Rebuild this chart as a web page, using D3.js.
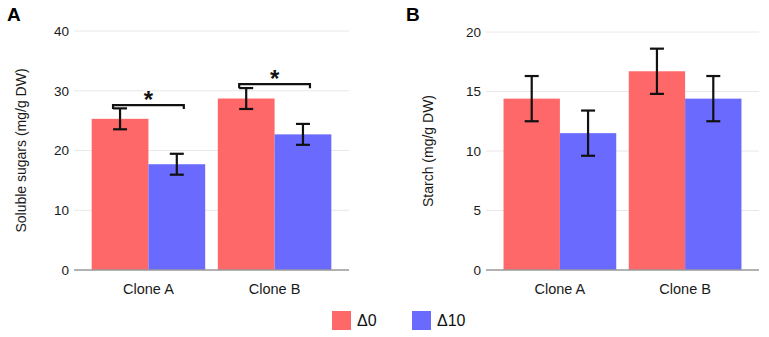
<!DOCTYPE html>
<html>
<head>
<meta charset="utf-8">
<script src="https://cdn.jsdelivr.net/npm/d3@7"></script>
<style>
  body { margin: 0; background: #fff; }
  svg { display: block; font-family: "Liberation Sans", Arial, sans-serif; }
</style>
</head>
<body>
<svg id="chart" width="769" height="337"></svg>
<script>
// Two panels of grouped bars: soluble sugars (A) and starch (B)

const clones = ["Clone A", "Clone B"];
const series = ["Δ0", "Δ10"];
const colors = ["#ff6868", "#6a6aff"];

// means and error (+/-) per clone, per series
const sugarMeans = [[25.3, 17.7], [28.7, 22.7]];
const sugarErr = [[1.75, 1.75], [1.75, 1.75]];
const starchMeans = [[14.4, 11.5], [16.7, 14.4]];
const starchErr = [[1.9, 1.9], [1.9, 1.9]];

const sugarTicks = [0, 10, 20, 30, 40];
const starchTicks = [0, 5, 10, 15, 20];

// significance brackets (panel A only)
const sugarSig = [
  { clone: "Clone A", y: 27.6, label: "*" },
  { clone: "Clone B", y: 31.1, label: "*" },
];

const svg = d3.select("#chart");

const panels = [
  {
    letter: "A", letterX: 7, x0: 74, x1: 349, yTop: 31, yMax: 40,
    title: "Soluble sugars (mg/g DW)", titleX: 21.5,
    means: sugarMeans, err: sugarErr, ticks: sugarTicks, sig: sugarSig,
  },
  {
    letter: "B", letterX: 406, x0: 486, x1: 759, yTop: 32, yMax: 20,
    title: "Starch (mg/g DW)", titleX: 428,
    means: starchMeans, err: starchErr, ticks: starchTicks, sig: [],
  },
];

const yBottom = 270;
const capHalf = 7;

panels.forEach((p) => {
  const g = svg.append("g");

  const x = d3.scaleBand()
    .domain(clones)
    .range([p.x0, p.x1])
    .paddingInner(0.1)
    .paddingOuter(0.14);

  const xs = d3.scaleBand()
    .domain(series)
    .range([0, x.bandwidth()]);

  const y = d3.scaleLinear()
    .domain([0, p.yMax])
    .range([yBottom, p.yTop]);

  // gridlines
  g.selectAll(".grid")
    .data(p.ticks.filter((t) => t > 0))
    .enter()
    .append("line")
    .attr("x1", p.x0)
    .attr("x2", p.x1)
    .attr("y1", (d) => y(d))
    .attr("y2", (d) => y(d))
    .attr("stroke", "#e8e8e8")
    .attr("stroke-width", 1);

  // tick labels
  g.selectAll(".tick-label")
    .data(p.ticks)
    .enter()
    .append("text")
    .attr("x", p.x0 - 5)
    .attr("y", (d) => y(d))
    .attr("dy", "0.36em")
    .attr("text-anchor", "end")
    .attr("font-size", 13.5)
    .attr("fill", "#1a1a1a")
    .text((d) => d);

  // bars
  const rows = [];
  clones.forEach((c, ci) => {
    series.forEach((s, si) => {
      rows.push({ clone: c, s, si, v: p.means[ci][si], e: p.err[ci][si] });
    });
  });

  g.selectAll(".bar")
    .data(rows)
    .enter()
    .append("rect")
    .attr("x", (d) => x(d.clone) + xs(d.s))
    .attr("y", (d) => y(d.v))
    .attr("width", xs.bandwidth())
    .attr("height", (d) => y(0) - y(d.v))
    .attr("fill", (d) => colors[d.si]);

  // baseline
  g.append("line")
    .attr("x1", p.x0)
    .attr("x2", p.x1)
    .attr("y1", y(0))
    .attr("y2", y(0))
    .attr("stroke", "#999")
    .attr("stroke-width", 1.6);

  // error bars
  const eb = g.selectAll(".err")
    .data(rows)
    .enter()
    .append("g")
    .attr("transform", (d) => `translate(${x(d.clone) + xs(d.s) + xs.bandwidth() / 2},0)`)
    .attr("stroke", "#111")
    .attr("stroke-width", 2.2);

  eb.append("line")
    .attr("y1", (d) => y(d.v + d.e))
    .attr("y2", (d) => y(d.v - d.e));
  eb.append("line")
    .attr("x1", -capHalf).attr("x2", capHalf)
    .attr("y1", (d) => y(d.v + d.e)).attr("y2", (d) => y(d.v + d.e));
  eb.append("line")
    .attr("x1", -capHalf).attr("x2", capHalf)
    .attr("y1", (d) => y(d.v - d.e)).attr("y2", (d) => y(d.v - d.e));

  // significance brackets
  const sg = g.selectAll(".sig")
    .data(p.sig)
    .enter()
    .append("g");

  sg.append("path")
    .attr("fill", "none")
    .attr("stroke", "#111")
    .attr("stroke-width", 2.2)
    .attr("d", (d) => {
      const xa = x(d.clone) + xs(series[0]) + xs.bandwidth() / 2 - capHalf;
      const xb = x(d.clone) + xs(series[1]) + xs.bandwidth() / 2 + capHalf;
      const yy = y(d.y);
      return `M${xa},${yy + 4}V${yy}H${xb}V${yy + 4}`;
    });

  sg.append("text")
    .attr("x", (d) => x(d.clone) + x.bandwidth() / 2)
    .attr("y", (d) => y(d.y) + 3)
    .attr("text-anchor", "middle")
    .attr("font-size", 24)
    .attr("font-weight", "bold")
    .attr("fill", "#111")
    .text((d) => d.label);

  // category labels
  g.selectAll(".cat")
    .data(clones)
    .enter()
    .append("text")
    .attr("x", (d) => x(d) + x.bandwidth() / 2)
    .attr("y", 294)
    .attr("text-anchor", "middle")
    .attr("font-size", 14.5)
    .attr("fill", "#1a1a1a")
    .text((d) => d);

  // y title
  g.append("text")
    .attr("transform", `translate(${p.titleX},${(yBottom + p.yTop) / 2}) rotate(-90)`)
    .attr("text-anchor", "middle")
    .attr("dy", "0.35em")
    .attr("font-size", 14)
    .attr("fill", "#1a1a1a")
    .text(p.title);

  // panel letter
  g.append("text")
    .attr("x", p.letterX)
    .attr("y", 21)
    .attr("font-size", 19)
    .attr("font-weight", "bold")
    .attr("fill", "#000")
    .text(p.letter);
});

// legend
const legendX = [332, 412];
const lg = svg.selectAll(".legend")
  .data(series)
  .enter()
  .append("g")
  .attr("transform", (d, i) => `translate(${legendX[i]},311)`);

lg.append("rect")
  .attr("width", 19)
  .attr("height", 19)
  .attr("fill", (d, i) => colors[i]);

lg.append("text")
  .attr("x", 25)
  .attr("y", 9.5)
  .attr("dy", "0.36em")
  .attr("font-size", 16)
  .attr("fill", "#111")
  .text((d) => d);
</script>
</body>
</html>
